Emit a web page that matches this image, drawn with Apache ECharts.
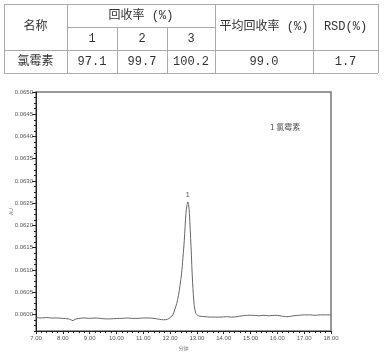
<!DOCTYPE html>
<html><head><meta charset="utf-8">
<script src="https://cdn.jsdelivr.net/npm/echarts@6/dist/echarts.min.js"></script>
<style>html,body{margin:0;padding:0;background:#fff}#c{width:384px;height:356px}</style>
</head><body><div id="c"></div>
<script>
// ---- table data ----
const tableHeaderName = '名称';
const tableHeaderRecovery = '回收率 (%)';
const tableHeaderAvg = '平均回收率 (%)';
const tableHeaderRSD = 'RSD(%)';
const replicateLabels = ['1', '2', '3'];
const compoundName = '氯霉素';
const recoveries = ['97.1', '99.7', '100.2'];
const avgRecovery = '99.0';
const rsd = '1.7';

// ---- chromatogram data (time in min, absorbance AU) ----
const times = [7.0,7.2,7.4,7.6,7.8,8.0,8.2,8.3,8.38,8.45,8.6,8.8,9.0,9.2,9.4,9.6,9.8,10.0,10.2,10.4,10.6,10.8,11.0,11.2,11.4,11.6,11.75,11.9,12.0,12.1,12.18,12.25,12.31,12.37,12.43,12.48,12.53,12.59,12.63,12.66,12.69,12.72,12.78,12.84,12.9,12.95,12.99,13.05,13.11,13.3,13.5,13.7,13.9,14.1,14.3,14.5,14.7,14.9,15.1,15.3,15.5,15.7,15.9,16.1,16.3,16.4,16.6,16.8,17.0,17.2,17.4,17.6,17.8,18.0];
const absorb = [0.05993,0.05992,0.05993,0.05992,0.05992,0.05991,0.05990,0.05988,0.05986,0.05989,0.05991,0.05992,0.05991,0.05992,0.05991,0.05990,0.05990,0.05991,0.05991,0.05992,0.05991,0.05991,0.05992,0.05992,0.05991,0.05989,0.05988,0.05989,0.05993,0.05999,0.06012,0.06025,0.06042,0.06065,0.06093,0.06128,0.06167,0.06227,0.06245,0.06253,0.06247,0.06227,0.06153,0.06071,0.06020,0.06004,0.06000,0.05997,0.05996,0.05995,0.05994,0.05994,0.05994,0.05995,0.05994,0.05995,0.05997,0.05998,0.05998,0.05997,0.05998,0.05997,0.05998,0.05997,0.05995,0.05995,0.05997,0.05998,0.05999,0.05999,0.05998,0.05999,0.05999,0.05999];
const peakLabel = '1';
const legendText = '1 氯霉素';
const yMajorTicks = [0.0600,0.0605,0.0610,0.0615,0.0620,0.0625,0.0630,0.0635,0.0640,0.0645,0.0650];
const xTicks = [7,8,9,10,11,12,13,14,15,16,17,18];

const chart = echarts.init(document.getElementById('c'));
const fontT = '"Liberation Mono","Noto Sans CJK SC",monospace';
const tc = '#333';
const lc = '#aaa';

// table geometry
const X = [4, 67, 117, 167, 215, 313, 378];
const Y = [4, 27, 50, 73];
const graphics = [];
function hline(x1, x2, y) { graphics.push({type:'line', shape:{x1:x1,y1:y,x2:x2,y2:y}, style:{stroke:lc, lineWidth:1}}); }
function vline(x, y1, y2) { graphics.push({type:'line', shape:{x1:x,y1:y1,x2:x,y2:y2}, style:{stroke:lc, lineWidth:1}}); }
function txt(s, cx, cy) { graphics.push({type:'text', x:cx, y:cy, style:{text:s, font:'12px ' + fontT, fill:tc, align:'center', verticalAlign:'middle'}}); }
hline(X[0], X[6], Y[0] + 0.5);
hline(X[1], X[4], Y[1] + 0.5);
hline(X[0], X[6], Y[2] + 0.5);
hline(X[0], X[6], Y[3] + 0.5);
[X[0], X[1], X[4], X[5], X[6]].forEach(x => vline(x + 0.5, Y[0], Y[3]));
vline(X[2] + 0.5, Y[1], Y[3]);
vline(X[3] + 0.5, Y[1], Y[3]);
txt(tableHeaderName, (X[0] + X[1]) / 2, (Y[0] + Y[2]) / 2);
txt(tableHeaderRecovery, (X[1] + X[4]) / 2, (Y[0] + Y[1]) / 2);
replicateLabels.forEach((s, i) => txt(s, (X[1 + i] + X[2 + i]) / 2, (Y[1] + Y[2]) / 2));
txt(tableHeaderAvg, (X[4] + X[5]) / 2, (Y[0] + Y[2]) / 2);
txt(tableHeaderRSD, (X[5] + X[6]) / 2, (Y[0] + Y[2]) / 2);
txt(compoundName, (X[0] + X[1]) / 2, (Y[2] + Y[3]) / 2);
recoveries.forEach((s, i) => txt(s, (X[1 + i] + X[2 + i]) / 2, (Y[2] + Y[3]) / 2));
txt(avgRecovery, (X[4] + X[5]) / 2, (Y[2] + Y[3]) / 2);
txt(rsd, (X[5] + X[6]) / 2, (Y[2] + Y[3]) / 2);

const yMin = 0.059625, yMax = 0.0650;
const axisFont = {fontSize: 6, color: '#555', fontFamily: 'Arial, "Liberation Sans", sans-serif'};

chart.setOption({
  animation: false,
  title: {text: legendText, left: 265, top: 118, textStyle: {fontSize: 8, fontWeight: 'normal', color: '#555', fontFamily: '"Noto Sans CJK SC", sans-serif'}},
  graphic: graphics,
  grid: {left: 36, right: 53, top: 92, bottom: 23, show: true, borderColor: '#777', borderWidth: 1.5},
  xAxis: {
    type: 'value', min: 7, max: 18, interval: 1,
    name: '分钟', nameLocation: 'middle', nameGap: 13,
    nameTextStyle: {fontSize: 5, color: '#777', fontFamily: '"Noto Sans CJK SC", sans-serif'},
    axisLine: {lineStyle: {color: '#222', width: 1}},
    axisTick: {length: 3, lineStyle: {color: '#222'}},
    minorTick: {show: true, splitNumber: 5, length: 2, lineStyle: {color: '#222'}},
    axisLabel: Object.assign({margin: 4, formatter: v => v.toFixed(2)}, axisFont),
    splitLine: {show: false}
  },
  yAxis: [{
    type: 'value', min: yMin, max: yMax, interval: 0.000125,
    name: 'AU', nameLocation: 'middle', nameGap: 22, nameRotate: 90,
    nameTextStyle: {fontSize: 5, color: '#777'},
    axisLine: {lineStyle: {color: '#222', width: 1}},
    axisTick: {length: 2, lineStyle: {color: '#222'}},
    axisLabel: {show: false},
    splitLine: {show: false}
  }, {
    type: 'value', min: yMin, max: yMax, position: 'left',
    axisLine: {show: false},
    axisTick: {show: true, length: 4, customValues: yMajorTicks, lineStyle: {color: '#222'}},
    axisLabel: Object.assign({margin: 3, customValues: yMajorTicks, formatter: v => v.toFixed(4)}, axisFont),
    splitLine: {show: false}
  }],
  series: [{
    type: 'line', yAxisIndex: 0, showSymbol: false, smooth: 0.3,
    data: times.map((t, i) => [t, absorb[i]]),
    lineStyle: {color: '#666', width: 1},
    markPoint: {
      symbol: 'circle', symbolSize: 0,
      data: [{type: 'max'}],
      label: {show: true, position: 'top', distance: 3, formatter: peakLabel, fontSize: 8, color: '#666'}
    }
  }]
});
</script></body></html>
